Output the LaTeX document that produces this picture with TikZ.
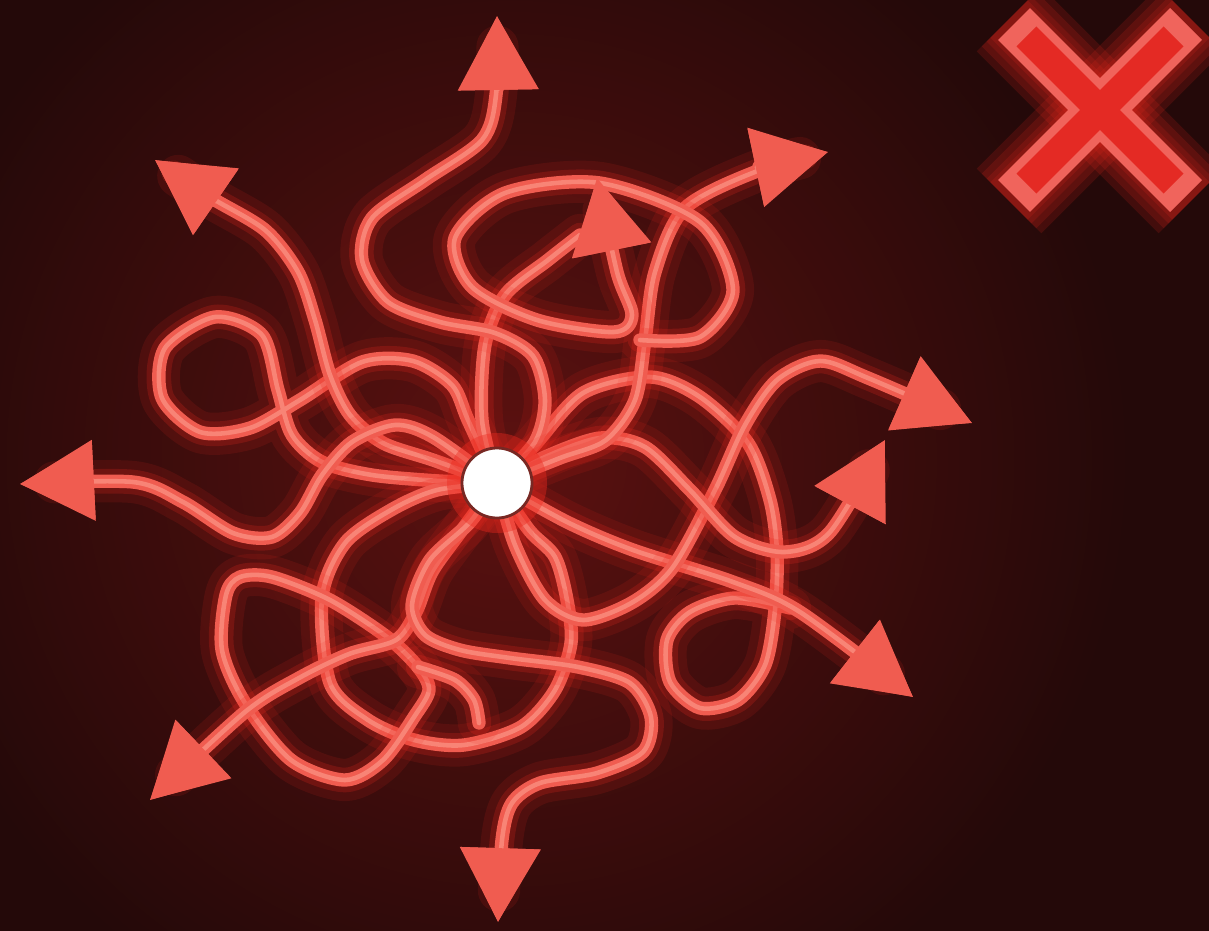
\documentclass[tikz,border=0pt]{standalone}
\usetikzlibrary{arrows.meta}

\definecolor{bgout}{RGB}{36,9,9}
\definecolor{bgin}{RGB}{92,17,16}
\definecolor{neonglow}{RGB}{235,40,30}
\definecolor{neon}{RGB}{240,92,80}
\definecolor{neonhi}{RGB}{248,132,118}
\definecolor{crossrim}{RGB}{240,100,92}
\definecolor{crossin}{RGB}{228,42,36}
\definecolor{hubrim}{RGB}{120,40,35}

\newcommand\neonline[1]{%
  \draw[glowline] #1;
  \draw[glowcore] #1;
  \draw[mainline] #1;
  \draw[hiline] #1;}
\newcommand\neonarrow[1]{%
  \draw[glowline,shorten >=14pt] #1;
  \draw[glowcore,shorten >=10pt] #1;
  \draw[mainline,-{Triangle[length=21pt,width=22pt]}] #1;
  \draw[hiline,-{Triangle[length=21pt,width=22pt,color=neon]}] #1;}

\begin{document}
\begin{tikzpicture}[x=0.01cm,y=-0.01cm,line cap=round,line join=round,
    glowline/.style={neonglow,line width=12pt,opacity=.12},
    glowcore/.style={neonglow,line width=7pt,opacity=.22},
    mainline/.style={neon,line width=3.8pt},
    hiline/.style={neonhi,line width=1.3pt},
    crossglow/.style={neonglow,line width=#1,opacity=.16,line cap=butt,shorten <=-2pt,shorten >=-2pt},
    crossbar/.style={crossrim,line width=12.8pt,line cap=butt},
    crosscore/.style={crossin,line width=8pt,line cap=butt,shorten <=5pt,shorten >=5pt},
    hubdot/.style={circle,fill=white,draw=hubrim,line width=0.8pt,minimum size=0.7cm,inner sep=0pt}]
    \useasboundingbox (0,0) rectangle (1209,930);

    % 背景
    \fill[bgout] (-20,-20) rectangle (1229,950);
    \shade[inner color=bgin,outer color=bgout] (510,460) circle (620);

    \coordinate (hub) at (497,483);
    \coordinate (tipN) at (497,16);
    \coordinate (tipNW) at (155,160);
    \coordinate (tipW) at (20,484);
    \coordinate (tipSW) at (150,800);
    \coordinate (tipS) at (498,922);
    \coordinate (tipSE) at (913,697);
    \coordinate (tipE) at (972,423);
    \coordinate (tipE2) at (885,440);
    \coordinate (tipNE) at (828,152);
    \coordinate (tipM) at (597,178);

    % 輪（矢印なし）
    \neonline{plot[smooth] coordinates {(hub) (468,420) (452,385) (413,361) (362,362) (300,400) (250,428) (200,432) (162,398) (165,348) (215,317) (262,335) (278,390) (292,435) (322,462) (372,475) (440,481) (hub)}}
    \neonline{plot[smooth] coordinates {(hub) (437,490) (391,510) (345,543) (322,597) (330,683) (368,720) (414,740) (464,745) (521,727) (555,690) (571,643) (567,600) (555,557) (529,530) (hub)}}
    \neonline{plot[smooth cycle] coordinates {(226,595) (222,650) (245,703) (291,760) (345,780) (383,760) (414,717) (429,690) (418,667) (387,637) (330,600) (272,577) (240,577)}}
    \neonline{plot[smooth] coordinates {(418,667) (455,680) (474,700) (479,723)}}
    \neonline{plot[smooth] coordinates {(hub) (533,447) (583,393) (650,377) (700,397) (748,443) (770,500) (777,552) (775,610) (765,665) (738,700) (700,708) (670,682) (667,640) (690,612) (735,598) (790,608)}}
    \neonline{plot[smooth] coordinates {(hub) (482,420) (485,345) (505,295) (548,260) (580,235)}}

    % 矢印
    \neonarrow{plot[smooth] coordinates {(hub) (535,442) (545,400) (533,356) (495,333) (440,322) (388,302) (362,260) (372,218) (425,180) (482,140) (496,95) (tipN)}}
    \neonarrow{plot[smooth] coordinates {(hub) (433,460) (383,443) (350,415) (330,375) (315,320) (298,272) (265,230) (210,197) (tipNW)}}
    \neonarrow{plot[smooth] coordinates {(hub) (433,437) (395,425) (352,442) (322,475) (300,513) (272,537) (233,533) (183,502) (133,482) (tipW)}}
    \neonarrow{plot[smooth] coordinates {(hub) (462,530) (432,572) (416,612) (396,640) (349,654) (299,678) (245,712) (tipSW)}}
    \neonarrow{plot[smooth] coordinates {(hub) (470,522) (430,560) (412,605) (425,635) (460,650) (510,658) (578,667) (630,683) (651,717) (643,752) (597,773) (540,783) (512,803) (502,840) (tipS)}}
    \neonarrow{plot[smooth] coordinates {(hub) (567,522) (633,550) (733,582) (800,612) (tipSE)}}
    \neonarrow{plot[smooth] coordinates {(hub) (515,545) (545,600) (583,620) (633,602) (673,567) (715,490) (745,425) (777,380) (820,361) (868,378) (tipE)}}
    \neonarrow{plot[smooth] coordinates {(hub) (545,457) (600,438) (645,447) (690,490) (735,537) (785,552) (830,532) (tipE2)}}
    \neonarrow{plot[smooth] coordinates {(hub) (560,458) (606,440) (635,400) (645,340) (655,272) (685,208) (760,170) (tipNE)}}
    \neonarrow{plot[smooth] coordinates {(640,340) (700,337) (733,290) (700,222) (600,183) (505,193) (455,238) (472,287) (537,320) (614,332) (632,315) (617,272) (tipM)}}

    % 中心点
    \fill[neonglow,opacity=.4] (hub) circle (50);
    \node[hubdot] (hubdot) at (hub) {};

    % バツ印
    \foreach \w in {26pt,22pt,18pt,15pt} {
      \draw[crossglow=\w] (1014,24) -- (1186,196);
      \draw[crossglow=\w] (1186,24) -- (1014,196);
    }
    \draw[crossbar] (1014,24) -- (1186,196);
    \draw[crossbar] (1186,24) -- (1014,196);
    \draw[crosscore] (1014,24) -- (1186,196);
    \draw[crosscore] (1186,24) -- (1014,196);
  \end{tikzpicture}
\end{document}
